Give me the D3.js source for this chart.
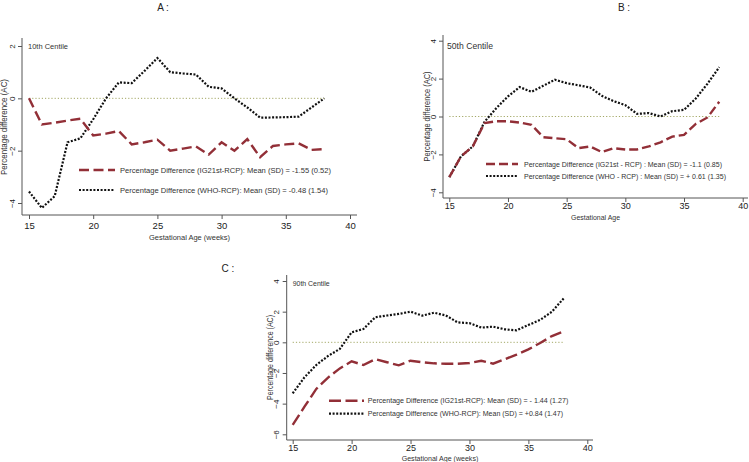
<!DOCTYPE html>
<html>
<head>
<meta charset="utf-8">
<script src="https://cdn.jsdelivr.net/npm/d3@7"></script>
<style>
  body { margin: 0; background: #fff; }
  svg { display: block; font-family: "Liberation Sans", Arial, sans-serif; }
</style>
</head>
<body>
<svg id="chart" width="749" height="462"></svg>
<script>
// ---- data ----
const weeks = [15,16,17,18,19,20,21,22,23,24,25,26,27,28,29,30,31,32,33,34,35,36,37,38];
const xTicks = [15,20,25,30,35,40];

// Panel A: 10th centile
const a_ig21 = [0,-1.0,-0.93,-0.85,-0.78,-1.42,-1.35,-1.25,-1.76,-1.68,-1.58,-2.0,-1.92,-1.84,-2.15,-1.68,-2.0,-1.56,-2.25,-1.82,-1.76,-1.72,-1.97,-1.94];
const a_who  = [-3.56,-4.19,-3.74,-1.68,-1.53,-0.8,0.0,0.61,0.58,1.05,1.54,1.0,0.95,0.91,0.44,0.38,0.0,-0.35,-0.74,-0.73,-0.72,-0.7,-0.35,0.0];
const a_yTicks = [-4,-2,0,2];

// Panel B: 50th centile
const b_ig21 = [-3.2,-2.1,-1.58,-0.35,-0.25,-0.25,-0.32,-0.44,-1.09,-1.15,-1.2,-1.67,-1.58,-1.88,-1.67,-1.74,-1.74,-1.58,-1.36,-1.06,-0.97,-0.39,-0.05,0.78];
const b_who  = [-3.2,-2.1,-1.58,-0.28,0.44,1.06,1.55,1.3,1.62,1.94,1.76,1.65,1.53,1.09,0.81,0.6,0.14,0.18,0.0,0.28,0.35,0.95,1.73,2.6];
const b_yTicks = [-4,-2,0,2,4];

// Panel C: 90th centile
const c_ig21 = [-5.39,-4.2,-3.04,-2.3,-1.7,-1.24,-1.48,-1.1,-1.3,-1.5,-1.2,-1.3,-1.37,-1.4,-1.4,-1.35,-1.2,-1.39,-1.1,-0.8,-0.46,-0.04,0.41,0.72];
const c_who  = [-3.33,-2.28,-1.48,-0.89,-0.43,0.65,0.87,1.63,1.75,1.85,2.0,1.74,1.93,1.75,1.3,1.25,0.96,1.02,0.85,0.78,1.13,1.46,2.0,2.87];
const c_yTicks = [-6,-4,-2,0,2,4];

const panelTitles = ["A :", "B :", "C :"];
const centileLabels = ["10th Centile", "50th Centile", "90th Centile"];
const xTitles = ["Gestational Age (weeks)", "Gestational Age", "Gestational Age (weeks)"];
const yTitle = "Percentage difference (AC)";
const legendIG = [
  "Percentage Difference (IG21st-RCP): Mean (SD) = -1.55 (0.52)",
  "Percentage Difference (IG21st - RCP) : Mean (SD) = -1.1 (0.85)",
  "Percentage Difference (IG21st-RCP): Mean (SD) = - 1.44 (1.27)"
];
const legendWHO = [
  "Percentage Difference (WHO-RCP): Mean (SD) = -0.48 (1.54)",
  "Percentage Difference (WHO - RCP) : Mean (SD) = + 0.61 (1.35)",
  "Percentage Difference (WHO-RCP): Mean (SD) = +0.84 (1.47)"
];

// ---- layout (pixels) ----
const layouts = [
  { left:22, right:357, top:38, bottom:215, xr:[29,350], yd:[-4,2], yr:[203,46],
    title:[163,7], cent:[28,46,40,8], xt:[189.5,237.5,81], yt:[4,127,96],
    leg:{sx:[79,115], tx:120, y1:170, y2:190, w1:211, w2:208}, fs:8, dash:"10,4.5",
    tfs:9.5, tpad:3 },
  { left:443, right:748, top:35, bottom:198, xr:[449.3,742.7], yd:[-4,4], yr:[192.3,40.7],
    title:[624,7], cent:[447,46,46,9], xt:[595.5,217.5,49], yt:[427,116.5,90],
    leg:{sx:[486,518], tx:524, y1:164, y2:176, w1:198, w2:202}, fs:7.5, dash:"9,4",
    tfs:9, tpad:1 },
  { left:286.7, right:593, top:275, bottom:440, xr:[292.7,587.3], yd:[-6,4], yr:[434.3,281],
    title:[228,268], cent:[292.7,283.7,37,7.5], xt:[440,458.5,76.6], yt:[270,357.5,85],
    leg:{sx:[329,364], tx:367.7, y1:400.7, y2:413.7, w1:200.6, w2:195.3}, fs:7.5, dash:"12,4.5",
    tfs:9, tpad:1 }
];

const seriesIG = [a_ig21, b_ig21, c_ig21];
const seriesWHO = [a_who, b_who, c_who];
const yTickSets = [a_yTicks, b_yTicks, c_yTicks];

const RED = "#922f37";
const AXIS = "#555";
const TXT = "#333";
const ZERO = "#a3a866";
const DOT = "2,1.6";

const svg = d3.select("#chart");

layouts.forEach((L, i) => {
  const g = svg.append("g");
  const x = d3.scaleLinear().domain([15, 40]).range(L.xr);
  const y = d3.scaleLinear().domain(L.yd).range(L.yr);

  // panel title
  g.append("text").attr("x", L.title[0]).attr("y", L.title[1])
    .attr("text-anchor", "middle").attr("dominant-baseline", "central")
    .attr("font-size", 10).attr("fill", "#222").text(panelTitles[i]);

  // x axis
  const xAxis = d3.axisBottom(x).tickValues(xTicks).tickSize(4).tickPadding(L.tpad).tickFormat(d3.format("d"));
  const gx = g.append("g").attr("transform", `translate(0,${L.bottom})`).call(xAxis);
  gx.select(".domain").remove();
  gx.selectAll(".tick line").attr("stroke", AXIS);
  gx.selectAll(".tick text").attr("font-size", L.tfs).attr("fill", "#222")
    .attr("font-family", "'Liberation Sans', Arial, sans-serif");
  g.append("line").attr("x1", L.left).attr("x2", L.right).attr("y1", L.bottom).attr("y2", L.bottom)
    .attr("stroke", AXIS).attr("stroke-width", 1);

  // y axis
  const yAxis = d3.axisLeft(y).tickValues(yTickSets[i]).tickSize(4).tickFormat(d3.format("d"));
  const gy = g.append("g").attr("transform", `translate(${L.left},0)`).call(yAxis);
  gy.select(".domain").remove();
  gy.selectAll(".tick line").attr("stroke", AXIS);
  gy.selectAll(".tick text")
    .attr("font-size", 8).attr("fill", "#222")
    .attr("font-family", "'Liberation Sans', Arial, sans-serif")
    .attr("x", null).attr("dy", null)
    .attr("text-anchor", "middle").attr("dominant-baseline", "central")
    .attr("transform", "translate(-10,0) rotate(-90)");
  g.append("line").attr("x1", L.left).attr("x2", L.left).attr("y1", L.top).attr("y2", L.bottom)
    .attr("stroke", AXIS).attr("stroke-width", 1);

  // zero reference line
  g.append("line").attr("x1", x(weeks[0])).attr("x2", x(weeks[weeks.length - 1]))
    .attr("y1", y(0)).attr("y2", y(0))
    .attr("stroke", ZERO).attr("stroke-width", 1).attr("stroke-dasharray", "1.2,2");

  // axis titles
  g.append("text").attr("x", L.xt[0]).attr("y", L.xt[1])
    .attr("text-anchor", "middle").attr("dominant-baseline", "central")
    .attr("font-size", 7.5).attr("fill", TXT)
    .attr("textLength", L.xt[2]).attr("lengthAdjust", "spacingAndGlyphs")
    .text(xTitles[i]);
  g.append("text")
    .attr("transform", `translate(${L.yt[0]},${L.yt[1]}) rotate(-90)`)
    .attr("text-anchor", "middle").attr("dominant-baseline", "central")
    .attr("font-size", 8.5).attr("fill", TXT)
    .attr("textLength", L.yt[2]).attr("lengthAdjust", "spacingAndGlyphs")
    .text(yTitle);

  // centile label
  g.append("text").attr("x", L.cent[0]).attr("y", L.cent[1])
    .attr("dominant-baseline", "central").attr("font-size", L.cent[3]).attr("fill", TXT)
    .attr("textLength", L.cent[2]).attr("lengthAdjust", "spacingAndGlyphs")
    .text(centileLabels[i]);

  // lines
  const line = d3.line().x((d, k) => x(weeks[k])).y(d => y(d));
  g.append("path").datum(seriesWHO[i]).attr("d", line)
    .attr("fill", "none").attr("stroke", "#111").attr("stroke-width", 2.2)
    .attr("stroke-dasharray", DOT);
  g.append("path").datum(seriesIG[i]).attr("d", line)
    .attr("fill", "none").attr("stroke", RED).attr("stroke-width", 2.4)
    .attr("stroke-dasharray", L.dash);

  // legend
  const lg = L.leg;
  g.append("line").attr("x1", lg.sx[0]).attr("x2", lg.sx[1]).attr("y1", lg.y1).attr("y2", lg.y1)
    .attr("stroke", RED).attr("stroke-width", 2.4).attr("stroke-dasharray", L.dash);
  g.append("line").attr("x1", lg.sx[0]).attr("x2", lg.sx[1]).attr("y1", lg.y2).attr("y2", lg.y2)
    .attr("stroke", "#111").attr("stroke-width", 2.2).attr("stroke-dasharray", DOT);
  g.append("text").attr("x", lg.tx).attr("y", lg.y1).attr("dominant-baseline", "central")
    .attr("font-size", L.fs).attr("fill", TXT)
    .attr("textLength", lg.w1).attr("lengthAdjust", "spacingAndGlyphs").text(legendIG[i]);
  g.append("text").attr("x", lg.tx).attr("y", lg.y2).attr("dominant-baseline", "central")
    .attr("font-size", L.fs).attr("fill", TXT)
    .attr("textLength", lg.w2).attr("lengthAdjust", "spacingAndGlyphs").text(legendWHO[i]);
});
</script>
</body>
</html>
